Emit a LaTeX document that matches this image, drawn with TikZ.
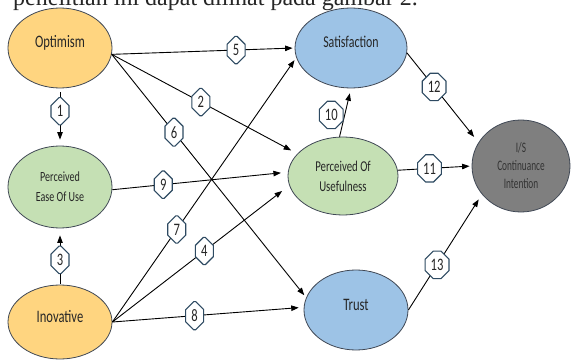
\documentclass[tikz,border=0pt]{standalone}
\usepackage{fontspec}
\setmainfont{Carlito}
\newfontfamily\pagefont{Liberation Serif}
\newfontfamily\narrowfont[FakeStretch=0.72]{Carlito}
\newfontfamily\narrowerfont[FakeStretch=0.64]{Carlito}
\usetikzlibrary{shapes.geometric,shapes.misc,arrows.meta}
\definecolor{yelfill}{HTML}{FFD580}
\definecolor{bluefill}{HTML}{9DC3E6}
\definecolor{greenfill}{HTML}{C5E0B4}
\definecolor{greyfill}{HTML}{7F7F7F}
\definecolor{rimcol}{HTML}{404855}
\definecolor{labcol}{HTML}{2E4A62}
\tikzset{
  var/.style={ellipse, draw=rimcol, line width=0.8pt, inner sep=0pt, align=center, text=black!85},
  onel/.style={text height=0pt, text depth=0pt},
  arr/.style={draw=black, line width=0.9pt, -{Triangle[length=7.5pt,width=5.5pt]}},
  lab/.style={chamfered rectangle, chamfered rectangle xsep=4pt, chamfered rectangle ysep=4pt,
    draw=labcol, line width=1.1pt, fill=white, inner xsep=1.5pt, inner ysep=4pt,
    minimum width=18pt, minimum height=23pt, font=\narrowfont\fontsize{17.5}{17.5}\selectfont, text=black!85}
}
\begin{document}
\begin{tikzpicture}[x=1pt,y=-1pt]
\clip (0,0) rectangle (571,361);
\fill[white] (0,0) rectangle (571,361);
\node[anchor=base west, inner sep=0pt, font=\pagefont\fontsize{24}{24}\selectfont, text=black!85] (cap) at (13,6) {penelitian ini dapat dilihat pada gambar 2.};

\node[var, onel, fill=yelfill, minimum width=104pt, minimum height=80pt, font=\narrowfont\fontsize{17.5}{17}\selectfont] (opt) at (60,48) {Optimism};
\node[var, fill=greenfill, minimum width=104pt, minimum height=82pt, font=\narrowfont\fontsize{14}{20}\selectfont] (peou) at (60,187) {Perceived\\Ease Of Use};
\node[var, onel, fill=yelfill, minimum width=104pt, minimum height=74pt, font=\narrowfont\fontsize{17.5}{17}\selectfont] (inov) at (60,322) {Inovative};
\node[var, onel, fill=bluefill, minimum width=112pt, minimum height=80pt, font=\narrowfont\fontsize{16.5}{17}\selectfont] (sat) at (351,48) {Satisfaction};
\node[var, fill=greenfill, minimum width=110pt, minimum height=78pt, font=\narrowfont\fontsize{15}{20}\selectfont] (pou) at (343,176) {Perceived Of\\Usefulness};
\node[var, onel, fill=bluefill, minimum width=104pt, minimum height=80pt, font=\narrowfont\fontsize{17.5}{17}\selectfont] (trust) at (356,310) {Trust};
\node[var, fill=greyfill, minimum width=98pt, minimum height=92pt, font=\narrowerfont\fontsize{14.5}{18}\selectfont, text=black!80] (is) at (521,166) {I/S\\Continuance\\Intention};

\draw[arr, shorten <=4pt, shorten >=6pt] (opt.south) -- node[lab,pos=0.4] (l1) {1} (peou.north);
\draw[arr, shorten <=1pt, shorten >=7pt] (inov.north) -- node[lab,pos=0.44] (l3) {3} (peou.south);
\draw[arr, shorten >=2pt] (opt.-7) -- node[lab,pos=0.68] (l5) {5} (sat.west);
\draw[arr, shorten >=7pt] (opt.-7) -- node[lab,pos=0.48] (l2) {2} (pou.154);
\draw[arr, shorten >=3pt] (opt.-7) -- node[lab,pos=0.32] (l6) {6} (trust.166);
\draw[arr, shorten >=7pt] (peou.-3) -- node[lab,pos=0.29] (l9) {9} (pou.176);
\draw[arr, shorten >=3pt] (inov.east) -- node[lab,pos=0.35] (l7) {7} (sat.190);
\draw[arr, shorten >=9pt] (inov.east) -- node[lab,pos=0.52] (l4) {4} (pou.190);
\draw[arr, shorten >=5pt] (inov.east) -- node[lab,pos=0.43] (l8) {8} (trust.177);
\draw[arr, shorten >=5pt] (pou.95) -- node[lab,pos=0.45,left=1pt] (l10) {10} (sat.south);
\draw[arr, shorten >=7pt] (sat.-5) -- node[lab,pos=0.38] (l12) {12} (is.151);
\draw[arr, shorten >=2pt] (pou.6) -- node[lab,pos=0.43] (l11) {11} (is.west);
\draw[arr, shorten >=6pt] (trust.east) -- node[lab,pos=0.39] (l13) {13} (is.216);
\end{tikzpicture}
\end{document}
